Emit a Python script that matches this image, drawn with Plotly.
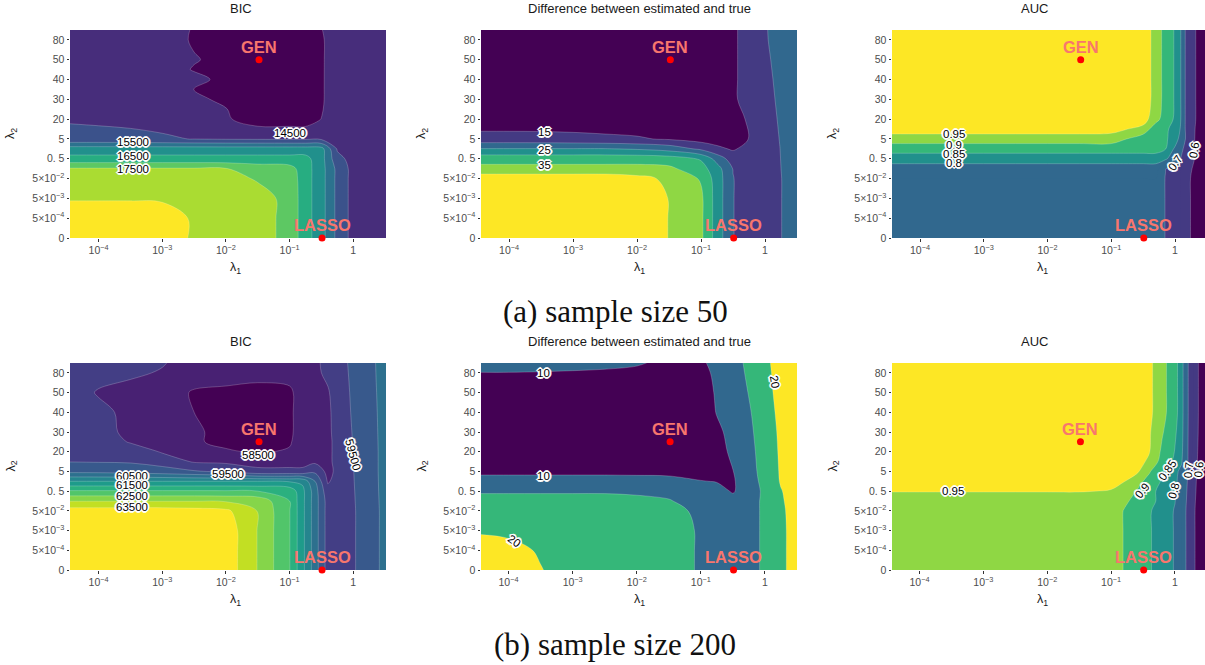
import plotly.graph_objects as go

W, H = 1205, 665

# ---------------- shared ticks ----------------
lambda1_tick_log10 = [-4, -3, -2, -1, 0]
lambda1_tick_text = ["10<sup>−4</sup>", "10<sup>−3</sup>", "10<sup>−2</sup>", "10<sup>−1</sup>", "1"]
lambda2_tick_rank = [0, 1, 2, 3, 4, 5, 6, 7, 8, 9, 10]
lambda2_tick_text = ["0", "5×10<sup>−4</sup>", "5×10<sup>−3</sup>", "5×10<sup>−2</sup>", "0. 5",
                     "5", "20", "30", "40", "50", "80"]

# selected tuning points: (log10 λ1, λ2 rank)
gen_n50 = (-1.48, 9.0)
lasso_n50 = (-0.49, 0.0)
gen_n200 = (-1.48, 6.5)
lasso_n200 = (-0.49, 0.0)

# ---------------- sample size 50 : BIC ----------------
bic50_log10_lambda1 = [-4.46, -4.0, -3.5, -3.0, -2.5, -2.0, -1.5, -1.0, -0.75, -0.5, -0.25, 0.0, 0.25, 0.52]
bic50_rank = [0, 1, 2, 3, 3.5, 4, 4.5, 5, 6, 6.5, 7, 7.5, 8, 8.5, 9, 10, 10.55]
bic50_bic = [
    [18600, 18550, 18400, 18200, 17950, 17800, 17700, 17350, 16700, 16200, 15370, 14830, 14720, 14680],
    [18350, 18350, 18350, 18200, 17950, 17800, 17700, 17350, 16700, 16200, 15370, 14830, 14720, 14680],
    [17950, 17950, 17950, 17950, 17950, 17800, 17700, 17350, 16700, 16200, 15370, 14830, 14720, 14680],
    [17700, 17700, 17700, 17700, 17700, 17680, 17450, 17300, 16700, 16200, 15370, 14830, 14720, 14680],
    [17550, 17550, 17550, 17550, 17550, 17520, 17300, 17200, 16700, 16200, 15370, 14830, 14720, 14680],
    [16650, 16650, 16650, 16650, 16650, 16650, 16650, 16650, 16650, 16200, 15150, 14830, 14720, 14680],
    [16255, 16255, 16255, 16255, 16255, 16255, 16255, 16255, 16255, 16200, 14950, 14830, 14720, 14680],
    [15100, 15100, 15080, 15040, 14990, 14960, 14950, 14940, 14930, 14920, 14900, 14830, 14720, 14680],
    [14970, 14950, 14930, 14900, 14800, 14560, 14250, 14250, 14250, 14510, 14880, 14830, 14720, 14680],
    [14930, 14920, 14910, 14890, 14750, 14520, 14250, 14250, 14250, 14450, 14880, 14825, 14720, 14680],
    [14900, 14900, 14900, 14880, 14700, 14300, 14250, 14250, 14250, 14420, 14880, 14820, 14720, 14680],
    [14890, 14890, 14890, 14880, 14480, 14300, 14250, 14250, 14250, 14420, 14875, 14820, 14720, 14680],
    [14870, 14870, 14870, 14870, 14700, 14300, 14250, 14250, 14250, 14420, 14870, 14820, 14720, 14680],
    [14860, 14860, 14860, 14870, 14450, 14300, 14250, 14250, 14250, 14420, 14865, 14815, 14720, 14680],
    [14850, 14850, 14850, 14850, 14550, 14300, 14250, 14250, 14250, 14420, 14860, 14810, 14720, 14680],
    [14850, 14850, 14850, 14850, 14420, 14300, 14250, 14250, 14250, 14420, 14860, 14810, 14720, 14680],
    [14850, 14850, 14850, 14850, 14450, 14300, 14250, 14250, 14250, 14480, 14860, 14810, 14720, 14680],
]
bic50_levels = [14500, 15000, 15500, 16000, 16500, 17000, 17500, 18000]
bic50_labels = [(-0.99, 5.32, 14500, 0), (-3.46, 4.86, 15500, 0),
                (-3.46, 4.14, 16500, 0), (-3.46, 3.48, 17500, 0)]

# ---------------- sample size 50 : difference ----------------
diff50_log10_lambda1 = [-4.46, -4.0, -3.5, -3.0, -2.5, -2.0, -1.5, -1.0, -0.75, -0.5, -0.25, 0.0, 0.25, 0.52]
diff50_rank = [0, 1, 2, 3, 3.5, 4, 4.5, 5, 6, 7, 8, 9, 10, 10.55]
diff50_diff = [
    [50, 50, 50, 49, 48, 46, 39.75, 36, 27.7, 20.2, 17, 16.5, 19.9, 22.5],
    [50, 50, 50, 49, 48, 46, 39.75, 36, 27.7, 20.2, 17, 16.5, 19.9, 22.5],
    [49, 49, 49, 49, 48, 46, 39.75, 36, 27.7, 20.2, 17, 16.5, 19.9, 22.5],
    [43, 43, 43, 43, 43, 41.5, 39, 34.5, 27.7, 20.2, 17, 16.5, 19.9, 22.5],
    [36.5, 36.5, 36.5, 36.5, 36.5, 36.5, 36, 32, 27, 19.8, 17, 16.5, 20, 22.5],
    [33.1, 33.1, 33.1, 33.1, 33.1, 33.1, 32.5, 29.5, 23, 17.5, 16.5, 16.5, 20.1, 22.5],
    [25.2, 25.2, 25.2, 25.2, 25.2, 24.5, 23, 19, 16, 14.5, 16.5, 16.8, 20.2, 22.5],
    [16.9, 16.9, 16.8, 16.5, 16, 15.5, 14.5, 13, 13, 13, 15.1, 17, 20.4, 22.5],
    [12, 12, 12, 12, 12, 12, 11.5, 11, 11, 12, 16, 17.5, 20.8, 22.5],
    [10, 10, 10, 10, 10, 10, 10, 10, 10.5, 14, 17.5, 18, 21.2, 22.5],
    [9, 9, 9, 9, 9, 9, 9, 9.5, 10, 14, 17.5, 18.5, 21.5, 22.5],
    [9, 9, 9, 9, 9, 9, 9, 9.5, 10, 14, 17.5, 19, 21.8, 22.5],
    [9, 9, 9, 9, 9, 9, 9, 9.5, 10, 14, 17.5, 19.5, 22, 22.5],
    [9, 9, 9, 9, 9, 9, 9, 9.5, 10, 14, 17.5, 19.6, 22, 22.5],
]
diff50_levels = [15, 20, 25, 30, 35, 40]
diff50_labels = [(-3.45, 5.37, 15, 0), (-3.45, 4.44, 25, 0), (-3.45, 3.69, 35, 0)]

# ---------------- sample size 50 : AUC ----------------
auc50_log10_lambda1 = [-4.44, -4.0, -3.5, -3.0, -2.5, -2.0, -1.5, -1.0, -0.5, -0.3, -0.15,
                       0.0, 0.1, 0.2, 0.3, 0.4, 0.52]
auc50_rank = [0, 1, 2, 3, 3.5, 4, 4.5, 5, 5.5, 6, 7, 8, 9, 10, 10.55]
auc50_auc = [
    [0.75, 0.75, 0.75, 0.75, 0.75, 0.75, 0.75, 0.75, 0.75, 0.75, 0.697, 0.67, 0.645, 0.615, 0.58, 0.56, 0.54],
    [0.75, 0.75, 0.75, 0.75, 0.75, 0.75, 0.75, 0.75, 0.75, 0.75, 0.697, 0.67, 0.645, 0.615, 0.58, 0.56, 0.54],
    [0.75, 0.75, 0.75, 0.75, 0.75, 0.75, 0.75, 0.75, 0.75, 0.75, 0.697, 0.67, 0.645, 0.615, 0.58, 0.56, 0.54],
    [0.75, 0.75, 0.75, 0.75, 0.75, 0.75, 0.75, 0.75, 0.75, 0.75, 0.697, 0.67, 0.645, 0.615, 0.58, 0.56, 0.54],
    [0.77, 0.77, 0.77, 0.77, 0.77, 0.77, 0.77, 0.77, 0.77, 0.77, 0.702, 0.67, 0.648, 0.62, 0.59, 0.565, 0.54],
    [0.83, 0.83, 0.83, 0.83, 0.83, 0.83, 0.83, 0.83, 0.83, 0.83, 0.81, 0.76, 0.69, 0.64, 0.602, 0.57, 0.54],
    [0.866, 0.866, 0.866, 0.866, 0.866, 0.866, 0.866, 0.866, 0.866, 0.866, 0.852, 0.79, 0.72, 0.645, 0.602, 0.57, 0.54],
    [0.93, 0.93, 0.93, 0.93, 0.93, 0.93, 0.93, 0.93, 0.8675, 0.862, 0.856, 0.83, 0.77, 0.66, 0.603, 0.57, 0.54],
    [0.97, 0.97, 0.97, 0.97, 0.97, 0.97, 0.97, 0.965, 0.936, 0.864, 0.856, 0.838, 0.79, 0.64, 0.605, 0.57, 0.54],
    [0.98, 0.98, 0.98, 0.98, 0.98, 0.98, 0.98, 0.98, 0.97, 0.92, 0.87, 0.845, 0.795, 0.637, 0.61, 0.57, 0.54],
    [0.98, 0.98, 0.98, 0.98, 0.98, 0.98, 0.98, 0.98, 0.975, 0.934, 0.877, 0.846, 0.795, 0.637, 0.61, 0.57, 0.54],
    [0.98, 0.98, 0.98, 0.98, 0.98, 0.98, 0.98, 0.98, 0.975, 0.934, 0.877, 0.846, 0.795, 0.637, 0.61, 0.57, 0.54],
    [0.98, 0.98, 0.98, 0.98, 0.98, 0.98, 0.98, 0.98, 0.975, 0.934, 0.877, 0.846, 0.795, 0.637, 0.61, 0.57, 0.54],
    [0.98, 0.98, 0.98, 0.98, 0.98, 0.98, 0.98, 0.98, 0.975, 0.934, 0.877, 0.846, 0.795, 0.637, 0.61, 0.57, 0.54],
    [0.98, 0.98, 0.98, 0.98, 0.98, 0.98, 0.98, 0.98, 0.975, 0.934, 0.877, 0.846, 0.795, 0.637, 0.61, 0.57, 0.54],
]
auc50_levels = [0.6, 0.7, 0.8, 0.85, 0.9, 0.95]
auc50_labels = [(-3.46, 5.24, 0.95, 0), (-3.46, 4.72, 0.9, 0), (-3.46, 4.25, 0.85, 0),
                (-3.46, 3.8, 0.8, 0), (0.0, 3.8, 0.7, -55), (0.3, 4.44, 0.6, -80)]

# ---------------- sample size 200 : BIC ----------------
bic200_log10_lambda1 = [-4.46, -4.0, -3.5, -3.0, -2.5, -2.0, -1.5, -1.0, -0.8, -0.6, -0.4, -0.2, 0.0, 0.25, 0.52]
bic200_rank = [0, 1, 2, 3, 3.5, 4, 4.5, 5, 5.5, 6, 6.5, 7, 8, 9, 10, 10.55]
bic200_bic = [
    [64500, 64500, 64400, 64200, 64000, 63800, 62980, 62020, 61150, 60240, 59300, 59250, 59450, 59780, 60150],
    [64500, 64500, 64400, 64200, 64000, 63800, 62980, 62020, 61150, 60240, 59300, 59250, 59450, 59780, 60150],
    [64300, 64300, 64300, 64200, 64000, 63800, 62980, 62020, 61150, 60240, 59300, 59250, 59450, 59780, 60150],
    [63750, 63750, 63750, 63750, 63700, 63600, 62980, 62020, 61150, 60240, 59300, 59250, 59450, 59780, 60150],
    [62980, 62980, 62980, 62980, 62980, 62950, 62850, 62000, 61150, 60240, 59300, 59250, 59460, 59785, 60160],
    [62057, 62057, 62057, 62057, 62057, 62050, 62000, 61850, 61150, 60240, 59150, 59250, 59470, 59790, 60170],
    [61000, 61000, 61000, 61000, 61000, 61000, 61000, 60950, 60900, 60000, 58950, 59230, 59480, 59795, 60175],
    [59864, 59850, 59800, 59700, 59550, 59420, 59100, 59100, 59100, 59400, 58850, 59200, 59490, 59800, 60180],
    [59485, 59470, 59450, 59300, 58950, 58900, 58850, 58850, 58850, 58900, 58900, 59200, 59500, 59800, 60180],
    [59400, 59400, 59350, 58950, 58800, 58550, 58450, 58550, 58800, 58850, 58900, 59200, 59510, 59800, 60180],
    [59380, 59370, 58950, 58900, 58550, 58400, 58350, 58450, 58750, 58850, 58900, 59200, 59520, 59805, 60185],
    [59350, 59300, 58800, 58850, 58550, 58400, 58350, 58400, 58750, 58850, 58900, 59250, 59530, 59810, 60190],
    [59300, 59150, 58850, 58800, 58500, 58400, 58350, 58400, 58750, 58850, 58900, 59300, 59550, 59820, 60200],
    [59300, 58950, 58800, 58750, 58450, 58400, 58350, 58400, 58750, 58850, 58950, 59320, 59570, 59830, 60220],
    [59250, 59200, 59100, 58950, 58750, 58700, 58650, 58700, 58800, 58900, 59100, 59340, 59600, 59845, 60240],
    [59250, 59200, 59150, 59050, 58750, 58700, 58700, 58700, 58800, 58900, 59150, 59350, 59620, 59850, 60250],
]
bic200_levels = [58500, 59000, 59500, 60000, 60500, 61000, 61500, 62000, 62500, 63000, 63500]
bic200_labels = [(-1.49, 5.84, 58500, 0), (-1.97, 4.87, 59500, 0), (0.0, 5.84, 59500, 75),
                 (-3.48, 4.76, 60500, 0), (-3.48, 4.3, 61500, 0), (-3.48, 3.77, 62500, 0),
                 (-3.48, 3.21, 63500, 0)]

# ---------------- sample size 200 : difference ----------------
diff200_log10_lambda1 = [-4.44, -4.0, -3.5, -3.0, -2.5, -2.0, -1.5, -1.0, -0.75, -0.5, -0.25, 0.0, 0.25, 0.5]
diff200_rank = [0, 1, 2, 3, 3.5, 4, 4.5, 5, 6, 7, 8, 9, 10, 10.55]
diff200_diff = [
    [23, 22, 20.2, 18, 17.5, 17.5, 17, 14.5, 12.5, 12, 13, 16, 19, 22],
    [22, 21.5, 19.5, 18, 17.5, 17.5, 17, 14.5, 12.5, 12, 13, 16, 19, 22],
    [19.5, 19, 18.5, 18, 17.5, 17.5, 17, 14.5, 12.5, 12, 13, 16, 19, 22],
    [17.5, 17.5, 17.5, 17.5, 17.5, 17.2, 16.5, 14, 12.5, 12, 13, 16, 19.2, 22],
    [16.5, 16.5, 16.5, 16.5, 16.5, 16, 15.3, 13, 12, 11.5, 13, 16, 19.5, 22],
    [14.5, 14.5, 14.5, 14.5, 14.5, 14.3, 13.8, 12.5, 11.5, 9.6, 12.5, 16, 19.8, 22],
    [12.5, 12.5, 12.5, 12.5, 12.5, 12.3, 12, 10.2, 9.8, 9.5, 12.8, 16.5, 20.4, 22],
    [8.6, 8.6, 8.6, 8.6, 8.6, 8.5, 8.3, 8, 8, 9.9, 13, 17, 20.5, 22],
    [7, 7, 7, 7, 7, 7, 7, 7.2, 8.5, 10.8, 13.5, 17.2, 20.7, 22.2],
    [7, 7, 7, 7, 7, 7, 7, 7.3, 9.2, 11.2, 14, 17.5, 20.9, 22.3],
    [7.5, 7.5, 7.5, 7.5, 7.5, 7.5, 7.5, 7.5, 10.2, 11.5, 14.5, 18, 21.2, 22.4],
    [8.5, 8.5, 8.3, 8.2, 8, 7.8, 7.6, 7.5, 10.6, 12, 15.2, 18.5, 21.5, 22.5],
    [9.95, 9.95, 9.9, 9.8, 9.7, 9.5, 9, 8.5, 11, 12.3, 16, 18.8, 21.8, 22.5],
    [11, 11, 10.9, 10.8, 10.6, 10.3, 9.5, 9.3, 11.5, 12.5, 16.5, 19, 22, 22.5],
]
diff200_levels = [10, 15, 20]
diff200_labels = [(-3.46, 9.98, 10, 0), (-3.46, 4.77, 10, 0), (-3.91, 1.49, 20, 35), (0.16, 9.56, 20, 80)]

# ---------------- sample size 200 : AUC ----------------
auc200_log10_lambda1 = [-4.44, -4.0, -3.5, -3.0, -2.5, -2.0, -1.5, -1.0, -0.8, -0.6, -0.4, -0.2,
                        0.0, 0.1, 0.2, 0.3, 0.4, 0.52]
auc200_rank = [0, 1, 2, 3, 3.5, 4, 4.5, 5, 5.5, 6, 7, 8, 9, 10, 10.55]
auc200_auc = [
    [0.93, 0.93, 0.93, 0.93, 0.93, 0.93, 0.93, 0.93, 0.898, 0.875, 0.853, 0.835, 0.795, 0.75, 0.68, 0.605, 0.57, 0.55],
    [0.93, 0.93, 0.93, 0.93, 0.93, 0.93, 0.93, 0.93, 0.898, 0.875, 0.853, 0.835, 0.795, 0.75, 0.68, 0.605, 0.57, 0.55],
    [0.93, 0.93, 0.93, 0.93, 0.93, 0.93, 0.93, 0.93, 0.898, 0.875, 0.853, 0.835, 0.795, 0.75, 0.68, 0.605, 0.57, 0.55],
    [0.93, 0.93, 0.93, 0.93, 0.93, 0.93, 0.93, 0.93, 0.898, 0.875, 0.853, 0.835, 0.795, 0.75, 0.68, 0.605, 0.57, 0.55],
    [0.93, 0.93, 0.93, 0.93, 0.93, 0.93, 0.93, 0.925, 0.91, 0.885, 0.86, 0.84, 0.802, 0.755, 0.685, 0.607, 0.572, 0.55],
    [0.952, 0.952, 0.952, 0.952, 0.952, 0.952, 0.952, 0.948, 0.93, 0.898, 0.86, 0.84, 0.81, 0.76, 0.69, 0.61, 0.575, 0.55],
    [0.965, 0.965, 0.965, 0.965, 0.965, 0.965, 0.965, 0.96, 0.952, 0.92, 0.88, 0.845, 0.815, 0.77, 0.695, 0.612, 0.577, 0.55],
    [0.97, 0.97, 0.97, 0.97, 0.97, 0.97, 0.97, 0.968, 0.965, 0.96, 0.905, 0.852, 0.82, 0.78, 0.702, 0.615, 0.58, 0.55],
    [0.975, 0.975, 0.975, 0.975, 0.975, 0.975, 0.975, 0.975, 0.975, 0.97, 0.94, 0.88, 0.84, 0.81, 0.703, 0.62, 0.58, 0.55],
    [0.975, 0.975, 0.975, 0.975, 0.975, 0.975, 0.975, 0.975, 0.975, 0.972, 0.952, 0.89, 0.848, 0.82, 0.703, 0.625, 0.58, 0.55],
    [0.975, 0.975, 0.975, 0.975, 0.975, 0.975, 0.975, 0.975, 0.975, 0.975, 0.955, 0.905, 0.855, 0.83, 0.704, 0.635, 0.58, 0.55],
    [0.975, 0.975, 0.975, 0.975, 0.975, 0.975, 0.975, 0.975, 0.975, 0.975, 0.96, 0.92, 0.86, 0.835, 0.705, 0.64, 0.58, 0.55],
    [0.975, 0.975, 0.975, 0.975, 0.975, 0.975, 0.975, 0.975, 0.975, 0.975, 0.96, 0.92, 0.86, 0.835, 0.705, 0.64, 0.58, 0.55],
    [0.975, 0.975, 0.975, 0.975, 0.975, 0.975, 0.975, 0.975, 0.975, 0.975, 0.96, 0.92, 0.86, 0.835, 0.705, 0.64, 0.58, 0.55],
    [0.975, 0.975, 0.975, 0.975, 0.975, 0.975, 0.975, 0.975, 0.975, 0.975, 0.96, 0.92, 0.86, 0.835, 0.705, 0.64, 0.58, 0.55],
]
auc200_levels = [0.6, 0.7, 0.8, 0.85, 0.9, 0.95]
auc200_labels = [(-3.47, 4.01, 0.95, 0), (-0.52, 4.03, 0.9, -50), (-0.12, 5.08, 0.85, -55),
                 (-0.02, 4.01, 0.8, -75), (0.21, 5.08, 0.7, -85), (0.37, 5.08, 0.6, -85)]

# ---------------- colours ----------------
VIRIDIS_4 = ["#440154", "#31688E", "#35B779", "#FDE725"]
VIRIDIS_7 = ["#440154", "#443A83", "#31688E", "#21908C", "#35B779", "#8FD744", "#FDE725"]
VIRIDIS_9 = ["#440154", "#472D7B", "#3B528B", "#2C728E", "#21908C", "#27AD81", "#5DC863", "#AADC32", "#FDE725"]
VIRIDIS_12 = ["#440154", "#482173", "#433E85", "#38598C", "#2D708E", "#25858E", "#1E9B8A", "#2BB07F",
              "#51C56A", "#85D54A", "#C2DF23", "#FDE725"]
# AUC bands on an even 0.05 grid; neighbouring 0.05 steps below 0.8 share a colour
AUC_BANDS = [VIRIDIS_7[0], VIRIDIS_7[1], VIRIDIS_7[1], VIRIDIS_7[2], VIRIDIS_7[2],
             VIRIDIS_7[3], VIRIDIS_7[4], VIRIDIS_7[5], VIRIDIS_7[6]]

TEXT_FONT = "Liberation Sans, Arial, sans-serif"
HALO = ("white 1px 0px 0px, white -1px 0px 0px, white 0px 1px 0px, white 0px -1px 0px, "
        "white 1px 1px 0px, white -1px -1px 0px, white 1px -1px 0px, white -1px 1px 0px, "
        "white 2px 0px 0px, white -2px 0px 0px, white 0px 2px 0px, white 0px -2px 0px")
POINT_LABEL_COLOR = "#F8766D"


def stepped_scale(colors):
    n = len(colors) - 1
    return [[i / n, c] for i, c in enumerate(colors)]


panels = [
    dict(x=bic50_log10_lambda1, y=bic50_rank, z=bic50_bic, fill=(14500, 18000, 500), bands=VIRIDIS_9,
         levels=bic50_levels, labels=bic50_labels, title="BIC", px=(70, 386), py=(30, 238),
         xrange=(-4.45, 0.515), points=(gen_n50, lasso_n50)),
    dict(x=diff50_log10_lambda1, y=diff50_rank, z=diff50_diff, fill=(15, 40, 5), bands=VIRIDIS_7,
         levels=diff50_levels, labels=diff50_labels, title="Difference between estimated and true",
         px=(481, 797), py=(30, 238), xrange=(-4.44, 0.5), points=(gen_n50, lasso_n50)),
    dict(x=auc50_log10_lambda1, y=auc50_rank, z=auc50_auc, fill=(0.6, 0.9501, 0.05), bands=AUC_BANDS,
         levels=auc50_levels, labels=auc50_labels, title="AUC", px=(892, 1205), py=(30, 238),
         xrange=(-4.44, 0.47), points=(gen_n50, lasso_n50)),
    dict(x=bic200_log10_lambda1, y=bic200_rank, z=bic200_bic, fill=(58500, 63500, 500), bands=VIRIDIS_12,
         levels=bic200_levels, labels=bic200_labels, title="BIC", px=(70, 386), py=(363, 570),
         xrange=(-4.45, 0.515), points=(gen_n200, lasso_n200)),
    dict(x=diff200_log10_lambda1, y=diff200_rank, z=diff200_diff, fill=(10, 20, 5), bands=VIRIDIS_4,
         levels=diff200_levels, labels=diff200_labels, title="Difference between estimated and true",
         px=(481, 797), py=(363, 570), xrange=(-4.43, 0.5), points=(gen_n200, lasso_n200)),
    dict(x=auc200_log10_lambda1, y=auc200_rank, z=auc200_auc, fill=(0.6, 0.9501, 0.05), bands=AUC_BANDS,
         levels=auc200_levels, labels=auc200_labels, title="AUC", px=(892, 1205), py=(363, 570),
         xrange=(-4.43, 0.47), points=(gen_n200, lasso_n200)),
]

fig = go.Figure()
annotations = []
layout_axes = {}

for i, p in enumerate(panels, start=1):
    sfx = "" if i == 1 else str(i)
    xref, yref = "x" + sfx, "y" + sfx
    start, end, step = p["fill"]

    fig.add_trace(go.Contour(
        x=p["x"], y=p["y"], z=p["z"], xaxis=xref, yaxis=yref,
        autocontour=False,
        contours=dict(start=start, end=end, size=step, coloring="fill", showlines=False),
        colorscale=stepped_scale(p["bands"]), showscale=False,
        line=dict(width=0), hoverinfo="skip",
    ))
    for lev in p["levels"]:
        fig.add_trace(go.Contour(
            x=p["x"], y=p["y"], z=p["z"], xaxis=xref, yaxis=yref,
            autocontour=False,
            contours=dict(start=lev, end=lev, size=1, coloring="none"),
            line=dict(color="rgba(255,255,255,0.35)", width=0.6),
            showscale=False, hoverinfo="skip",
        ))

    gen, lasso = p["points"]
    fig.add_trace(go.Scatter(
        x=[gen[0], lasso[0]], y=[gen[1], lasso[1]], xaxis=xref, yaxis=yref,
        mode="markers", marker=dict(color="#FF0000", size=7),
        cliponaxis=False, hoverinfo="skip", showlegend=False,
    ))
    for (px_, py_), name in ((gen, "GEN"), (lasso, "LASSO")):
        annotations.append(dict(
            x=px_, y=py_, xref=xref, yref=yref, text="<b>%s</b>" % name, showarrow=False,
            yshift=13, font=dict(family=TEXT_FONT, size=16.5, color=POINT_LABEL_COLOR),
        ))

    for lx, rk, val, ang in p["labels"]:
        annotations.append(dict(
            x=lx, y=rk, xref=xref, yref=yref, text=str(val), showarrow=False, textangle=ang,
            font=dict(family=TEXT_FONT, size=11.5, color="#000000", shadow=HALO),
        ))

    x0, x1 = p["px"]
    y0, y1 = p["py"]
    tick_font = dict(family=TEXT_FONT, size=10.5, color="#4D4D4D")
    layout_axes["xaxis" + sfx] = dict(
        domain=[x0 / W, min(x1 / W, 1.0)], range=list(p["xrange"]), anchor=yref,
        tickmode="array", tickvals=lambda1_tick_log10, ticktext=lambda1_tick_text,
        ticks="outside", ticklen=2.5, tickwidth=1, tickcolor="#333333", tickfont=tick_font,
        showgrid=False, zeroline=False, showline=False, automargin=False,
    )
    layout_axes["yaxis" + sfx] = dict(
        domain=[1 - y1 / H, 1 - y0 / H], range=[0, 10.5], anchor=xref,
        tickmode="array", tickvals=lambda2_tick_rank, ticktext=lambda2_tick_text,
        ticks="outside", ticklen=2.5, tickwidth=1, tickcolor="#333333", tickfont=tick_font,
        showgrid=False, zeroline=False, showline=False, automargin=False,
    )

    cx = (x0 + 316 / 2) if x1 >= W else (x0 + x1) / 2
    annotations.append(dict(x=cx / W, y=1 - (y0 - 22) / H, xref="paper", yref="paper",
                            text=p["title"], showarrow=False, yanchor="middle",
                            font=dict(family=TEXT_FONT, size=13, color="#1A1A1A")))
    annotations.append(dict(x=cx / W, y=1 - (y1 + 30) / H, xref="paper", yref="paper",
                            text="λ<sub>1</sub>", showarrow=False, yanchor="middle",
                            font=dict(family=TEXT_FONT, size=12.5, color="#1A1A1A")))
    annotations.append(dict(x=(x0 - 59) / W, y=1 - (y0 + y1) / 2 / H, xref="paper", yref="paper",
                            text="λ<sub>2</sub>", showarrow=False, textangle=-90,
                            xanchor="center", yanchor="middle",
                            font=dict(family=TEXT_FONT, size=12.5, color="#1A1A1A")))

for text, ypx in (("(a) sample size 50", 311), ("(b) sample size 200", 644)):
    annotations.append(dict(x=615 / W, y=1 - ypx / H, xref="paper", yref="paper", text=text,
                            showarrow=False, yanchor="middle",
                            font=dict(family="Liberation Serif, DejaVu Serif, serif", size=31,
                                      color="#111111")))

fig.update_layout(
    width=W, height=H, margin=dict(l=0, r=0, t=0, b=0),
    paper_bgcolor="white", plot_bgcolor="white", showlegend=False,
    template="none", annotations=annotations, **layout_axes,
)

fig.write_html("out.html")
